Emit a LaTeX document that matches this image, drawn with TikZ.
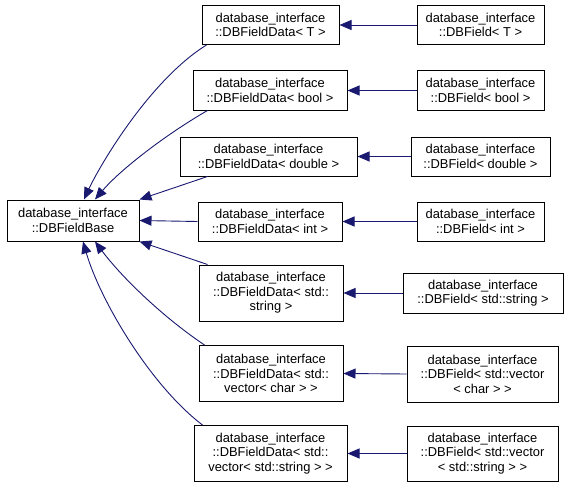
\documentclass[tikz,border=0pt]{standalone}
\usepackage{fontspec}
\setmainfont{Liberation Sans}
\usetikzlibrary{arrows.meta}
\definecolor{edgeblue}{HTML}{191970}
\tikzset{
  cls/.style={draw=black, line width=1pt, fill=white, rectangle, align=center, inner sep=0pt,
    font=\fontsize{12.9}{14.5}\selectfont},
  edge/.style={draw=edgeblue, line width=0.9pt, -{Triangle[length=12pt,width=10pt]}}
}
\begin{document}
\begin{tikzpicture}[x=1pt,y=-1pt]
\useasboundingbox (0,0) rectangle (568,487);
\node[cls, minimum width=132pt, minimum height=41pt] (base) at (73,220.5) {database\_interface\\::DBFieldBase};
% middle column
\node[cls, minimum width=137pt, minimum height=39pt] (dT) at (270.5,25) {database\_interface\\::DBFieldData< T >};
\node[cls, minimum width=154pt, minimum height=39pt] (dbool) at (270,90.5) {database\_interface\\::DBFieldData< bool >};
\node[cls, minimum width=177pt, minimum height=39pt] (ddouble) at (268.5,156.5) {database\_interface\\::DBFieldData< double >};
\node[cls, minimum width=144pt, minimum height=39pt] (dint) at (270,221.5) {database\_interface\\::DBFieldData< int >};
\node[cls, minimum width=144pt, minimum height=56pt] (dstr) at (271,293) {database\_interface\\::DBFieldData< std::\\string >};
\node[cls, minimum width=144pt, minimum height=56pt] (dvc) at (271,373.5) {database\_interface\\::DBFieldData< std::\\vector< char > >};
\node[cls, minimum width=153pt, minimum height=56pt] (dvs) at (270.5,453.5) {database\_interface\\::DBFieldData< std::\\vector< std::string > >};
% right column
\node[cls, minimum width=127pt, minimum height=39pt] (fT) at (480.5,25) {database\_interface\\::DBField< T >};
\node[cls, minimum width=127pt, minimum height=39pt] (fbool) at (480.5,90.5) {database\_interface\\::DBField< bool >};
\node[cls, minimum width=139pt, minimum height=39pt] (fdouble) at (480.5,156.5) {database\_interface\\::DBField< double >};
\node[cls, minimum width=127pt, minimum height=39pt] (fint) at (480.5,221.5) {database\_interface\\::DBField< int >};
\node[cls, minimum width=160pt, minimum height=40pt] (fstr) at (483,293) {database\_interface\\::DBField< std::string >};
\node[cls, minimum width=151pt, minimum height=56pt] (fvc) at (482.5,374) {database\_interface\\::DBField< std::vector\\< char > >};
\node[cls, minimum width=151pt, minimum height=55pt] (fvs) at (482.5,453.5) {database\_interface\\::DBField< std::vector\\< std::string > >};
% right -> middle
\draw[edge] (fT.west) -- (dT.east);
\draw[edge] (fbool.west) -- (dbool.east);
\draw[edge] (fdouble.west) -- (ddouble.east);
\draw[edge] (fint.west) -- (dint.east);
\draw[edge] (fstr.west) -- (dstr.east);
\draw[edge] (fvc.west) -- (dvc.east);
\draw[edge] (fvs.west) -- (dvs.east);
% middle -> base
\draw[edge] ([xshift=5pt]dT.south west) .. controls (150,80) and (100,165) .. ([xshift=11pt]base.north);
\draw[edge] ([xshift=15pt]dbool.south west) .. controls (165,135) and (120,170) .. ([xshift=22pt]base.north);
\draw[edge] ([xshift=28pt]ddouble.south west) -- (base.north east);
\draw[edge] (dint.west) -- (base.east);
\draw[edge] ([xshift=9pt]dstr.north west) -- (base.south east);
\draw[edge] ([xshift=6pt]dvc.north west) .. controls (160,315) and (120,275) .. ([xshift=22pt]base.south);
\draw[edge] ([xshift=9pt]dvs.north west) .. controls (150,385) and (100,300) .. ([xshift=10pt]base.south);
\end{tikzpicture}
\end{document}
